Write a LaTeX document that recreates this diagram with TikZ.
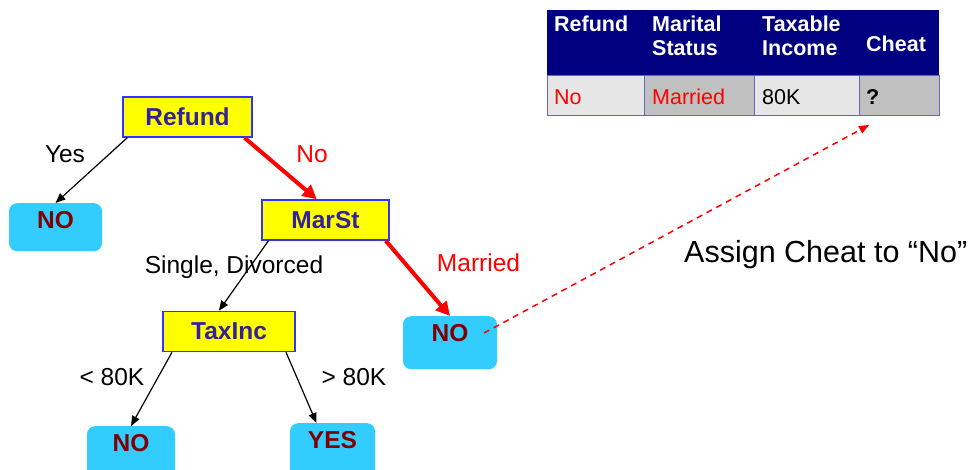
\documentclass[tikz,border=0pt]{standalone}
\usepackage{fontspec}
\setmainfont{Liberation Sans}
\usetikzlibrary{arrows.meta, calc}
\definecolor{split_yellow}{RGB}{255, 255, 0}
\definecolor{split_border}{RGB}{51, 51, 255}
\definecolor{split_text}{RGB}{51, 34, 153}
\definecolor{leaf_blue}{RGB}{51, 204, 255}
\definecolor{leaf_red}{RGB}{128, 0, 0}
\definecolor{head_navy}{RGB}{0, 0, 128}
\definecolor{cell_light}{RGB}{230, 230, 230}
\definecolor{cell_dark}{RGB}{192, 192, 192}
\definecolor{cell_line}{RGB}{102, 102, 187}
\def \treesize {\fontsize{24.5}{28}\selectfont}
\def \labelsize {\fontsize{24.5}{28}\selectfont}
\def \tablesize {\fontsize{21.5}{24}\selectfont}
\def \notesize {\fontsize{30.5}{34}\selectfont}

\begin{document}
\begin{tikzpicture}[x=1pt, y=-1pt,
    % Define the splitting attribute style
    split/.style={
        rectangle,
        draw=split_border,
        line width=1.5pt,
        fill=split_yellow,
        text=split_text,
        font=\treesize\bfseries,
        minimum width=#1,
        minimum height=40pt
    },
    % Leaf (class label) style
    leaf/.style={
        rectangle,
        rounded corners=8pt,
        fill=leaf_blue,
        text=leaf_red,
        font=\treesize\bfseries,
        minimum width=#1,
        inner xsep=0pt,
        inner ysep=8pt,
        text height=17pt,
        text depth=20pt,
        anchor=north
    },
    % Branch styles
    branch/.style={
        -{Triangle[length=10pt, width=8pt]},
        line width=1.2pt
    },
    taken/.style={
        -{Triangle[length=14pt, width=14pt]},
        line width=4pt,
        red
    },
    edgelabel/.style={
        font=\labelsize,
        text=#1
    },
    edgelabel/.default=black,
    % Table text style
    cell/.style={
        anchor=west,
        align=left,
        inner sep=0pt,
        font=\tablesize,
        text=#1
    }
]

\useasboundingbox (0,0) rectangle (978,470);
\clip (0,0) rectangle (978,470);

% The test record
\fill[head_navy] (547,10) rectangle (939,76);
\foreach \xa/\xb/\shade in {547/644/cell_light, 644/754/cell_dark, 754/859/cell_light, 859/939/cell_dark}
    \filldraw[fill=\shade, draw=cell_line, line width=1pt] (\xa,76) rectangle (\xb,116);

\node[cell=white, font=\tablesize\bfseries] (h_refund) at (554,24) {Refund};
\node[cell=white, font=\tablesize\bfseries] (h_marital) at (652,36) {Marital\\Status};
\node[cell=white, font=\tablesize\bfseries] (h_income) at (762,36) {Taxable\\Income};
\node[cell=white, font=\tablesize\bfseries] (h_cheat) at (866,44) {Cheat};

\node[cell=red] (v_refund) at (554,97) {No};
\node[cell=red] (v_marital) at (652,97) {Married};
\node[cell=black] (v_income) at (762,97) {80K};
\node[cell=black, font=\tablesize\bfseries] (v_cheat) at (866,97) {?};
\coordinate (cheat_tip) at (869,125);

% The tree
\node[split=129pt] (refund) at (187.5,117) {Refund};
\node[split=127pt] (marst) at (325.5,220) {MarSt};
\node[split=132pt] (taxinc) at (229,331.5) {TaxInc};

\node[leaf=93pt, text depth=15pt] (no_yes) at (55.5,203) {NO};
\node[leaf=94pt] (no_married) at (450,316) {NO};
\node[leaf=88pt, text depth=30pt] (no_low) at (131,426) {NO};
\node[leaf=85pt, text depth=30pt] (yes_high) at (332.5,423) {YES};

\draw[branch] (refund.199) -- (no_yes.north);
\draw[taken] (refund.-20) -- (marst.113);
\draw[branch] (marst.200) -- (taxinc.116);
\draw[taken] (marst.-19) -- (no_married.north);
\draw[branch] (taxinc.200) -- (no_low.north);
\draw[branch] (taxinc.-20) -- ($(yes_high.north)+(-16,0)$);

\node[edgelabel] (l_yes) at (65,154) {Yes};
\node[edgelabel=red] (l_no) at (312,154) {No};
\node[edgelabel] (l_single) at (234,267) {Single, Divorced};
\node[edgelabel=red] (l_married) at (478.5,263) {Married};
\node[edgelabel] (l_low) at (112,377) {< 80K};
\node[edgelabel] (l_high) at (354,377) {> 80K};

% Result
\draw[red, line width=1.5pt, dash pattern=on 6pt off 5pt, -{Triangle[length=10pt, width=8pt]}]
    ($(no_married.north)+(34,17)$) -- (cheat_tip);
\node[font=\notesize, anchor=west, inner sep=0pt] (assign) at (684,255) {Assign Cheat to “No”};

\end{tikzpicture}
\end{document}
